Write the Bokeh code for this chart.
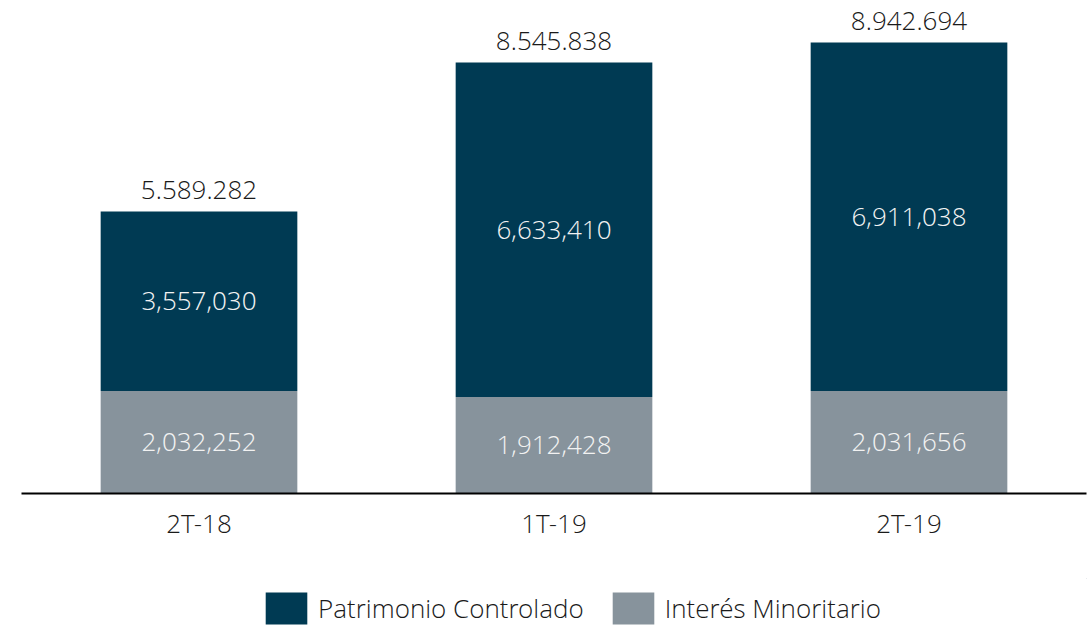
from bokeh.plotting import figure
from bokeh.layouts import column
from bokeh.models import ColumnDataSource, FactorRange, Range1d, Legend, LegendItem
from bokeh.core.properties import value
from bokeh.embed import file_html
from bokeh.resources import INLINE

# ---- data ----
periods = ["2T-18", "1T-19", "2T-19"]
interes_minoritario = [2032252, 1912428, 2031656]
patrimonio_controlado = [3557030, 6633410, 6911038]
series_names = ["Patrimonio Controlado", "Interés Minoritario"]
colors = ["#003A53", "#87939C"]

totals = [a + b for a, b in zip(interes_minoritario, patrimonio_controlado)]

FONT = "'Open Sans Light', 'Open Sans'"
FS = "26px"

src = ColumnDataSource(dict(
    x=periods,
    minor=interes_minoritario,
    ctrl=patrimonio_controlado,
    total=totals,
    minor_mid=[m / 2 for m in interes_minoritario],
    ctrl_mid=[m + c / 2 for m, c in zip(interes_minoritario, patrimonio_controlado)],
    minor_lbl=[f"{v:,}" for v in interes_minoritario],
    ctrl_lbl=[f"{v:,}" for v in patrimonio_controlado],
    total_lbl=[f"{v:,}".replace(",", ".") for v in totals],
))

ymax = max(totals) * 493 / 451

p = figure(x_range=FactorRange(*periods, range_padding=0),
           y_range=Range1d(0, ymax),
           width=1091, height=578, output_backend="svg", toolbar_location=None,
           min_border_left=21, min_border_right=5, min_border_top=0,
           min_border_bottom=85)
p.outline_line_color = None
p.background_fill_color = "white"
p.border_fill_color = "white"
p.xgrid.visible = False
p.ygrid.visible = False
p.yaxis.visible = False

r_minor = p.vbar(x="x", bottom=0, top="minor", width=0.554, source=src,
                 fill_color=colors[1], line_color=None)
r_ctrl = p.vbar(x="x", bottom="minor", top="total", width=0.554, source=src,
                fill_color=colors[0], line_color=None)

p.text(x="x", y="total", text="total_lbl", source=src, y_offset=-22,
       text_align="center", text_baseline="alphabetic",
       text_font=value(FONT), text_font_size=FS, text_color="#1a1a1a")
p.text(x="x", y="ctrl_mid", text="ctrl_lbl", source=src,
       text_align="center", text_baseline="middle",
       text_font=value(FONT), text_font_size=FS, text_color="#F2F2F2")
p.text(x="x", y="minor_mid", text="minor_lbl", source=src,
       text_align="center", text_baseline="middle",
       text_font=value(FONT), text_font_size=FS, text_color="#F2F2F2")

ax = p.xaxis[0]
ax.axis_line_color = "black"
ax.axis_line_width = 2
ax.major_tick_line_color = None
ax.minor_tick_line_color = None
ax.major_tick_out = 0
ax.major_tick_in = 0
ax.major_label_standoff = 11
ax.major_label_text_font = FONT
ax.major_label_text_font_size = FS
ax.major_label_text_color = "#1a1a1a"

# ---- legend strip ----
p2 = figure(x_range=Range1d(0, 1), y_range=Range1d(0, 1),
            width=1091, height=48, output_backend="svg", toolbar_location=None,
            min_border=0)
p2.outline_line_color = None
p2.xaxis.visible = False
p2.yaxis.visible = False
p2.xgrid.visible = False
p2.ygrid.visible = False
# off-screen proxies (outside the strip's ranges) used only for legend swatches
lr_ctrl = p2.vbar(x=[5], top=[5], bottom=[4], width=0.1,
                  fill_color=colors[0], line_color=None)
lr_minor = p2.vbar(x=[5], top=[5], bottom=[4], width=0.1,
                   fill_color=colors[1], line_color=None)

legend = Legend(items=[LegendItem(label=series_names[0], renderers=[lr_ctrl]),
                       LegendItem(label=series_names[1], renderers=[lr_minor])],
                orientation="horizontal", location=(239, -2),
                glyph_width=52, glyph_height=40, label_standoff=6, spacing=23,
                padding=0, margin=0, border_line_color=None,
                background_fill_alpha=0,
                label_text_font=FONT, label_text_font_size=FS,
                label_text_color="#1a1a1a")
p2.add_layout(legend, "center")

layout = column(p, p2, spacing=0)
open("out.html", "w").write(file_html(layout, INLINE))
